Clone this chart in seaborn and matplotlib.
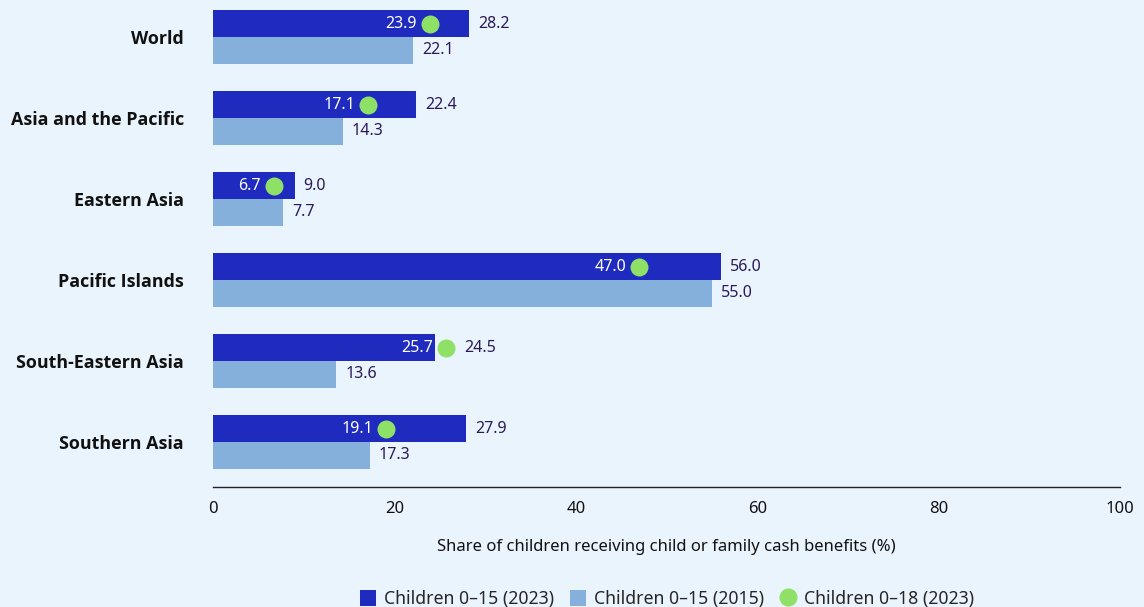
import pandas as pd
import seaborn as sns
import matplotlib.pyplot as plt
from matplotlib.patches import Patch
from matplotlib.lines import Line2D

regions = ['World', 'Asia and the Pacific', 'Eastern Asia', 'Pacific Islands',
           'South-Eastern Asia', 'Southern Asia']
children_0_15_2023 = [28.2, 22.4, 9.0, 56.0, 24.5, 27.9]
children_0_15_2015 = [22.1, 14.3, 7.7, 55.0, 13.6, 17.3]
children_0_18_2023 = [23.9, 17.1, 6.7, 47.0, 25.7, 19.1]
series_names = ['Children 0–15 (2023)', 'Children 0–15 (2015)', 'Children 0–18 (2023)']

bg = '#eaf4fd'
dark_blue = '#1f2bbf'
light_blue = '#85b0dc'
green = '#8ee067'
label_col = '#2b1a5a'

sns.set_theme(style='white')
plt.rcParams['font.family'] = ['Noto Sans', 'DejaVu Sans']

df = pd.DataFrame({
    'region': regions * 2,
    'value': children_0_15_2023 + children_0_15_2015,
    'series': [series_names[0]] * len(regions) + [series_names[1]] * len(regions),
})

fig = plt.figure(figsize=(11.44, 6.07), dpi=100, facecolor=bg)
ax = fig.add_axes([0.1862, 0.1977, 0.7928, 0.8015])
ax.set_facecolor(bg)

sns.barplot(data=df, x='value', y='region', hue='series', orient='h',
            palette=[dark_blue, light_blue], width=0.66, saturation=1,
            linewidth=0, legend=False, ax=ax)

dark_bars, light_bars = ax.containers[0], ax.containers[1]

# pixels -> data units for offsets
px = 100 / 907.0

for bar, v, g in zip(dark_bars, children_0_15_2023, children_0_18_2023):
    yc = bar.get_y() + bar.get_height() / 2
    ax.scatter([g], [yc], s=168, color=green, zorder=4, linewidths=0)
    ax.text(g - 13 * px, yc, f'{g:.1f}', ha='right', va='center',
            color='white', fontsize=11.5, zorder=5)
    end = max(v, g + 9 * px)
    ax.text(end + 9 * px, yc, f'{v:.1f}', ha='left', va='center',
            color=label_col, fontsize=11.5)

for bar, v in zip(light_bars, children_0_15_2015):
    yc = bar.get_y() + bar.get_height() / 2
    ax.text(v + 9 * px, yc, f'{v:.1f}', ha='left', va='center',
            color=label_col, fontsize=11.5)

ax.set_xlim(0, 100)
ax.set_ylim(5.555, -0.45)
ax.set_xticks([0, 20, 40, 60, 80, 100])
ax.set_yticks(range(len(regions)), regions, fontweight='bold', fontsize=12.9,
              color='#111111', family=['Open Sans', 'DejaVu Sans'])
ax.tick_params(axis='x', length=0, pad=10, labelsize=12, labelcolor='#111111')
ax.tick_params(axis='y', length=0, pad=21)
for lbl in ax.get_yticklabels():
    lbl.set_y(lbl.get_position()[1])
ax.set_ylabel('')
ax.set_xlabel('Share of children receiving child or family cash benefits (%)',
              fontsize=12, labelpad=16, color='#111111')

for s in ['top', 'right', 'left']:
    ax.spines[s].set_visible(False)
ax.spines['bottom'].set_color('#222222')
ax.spines['bottom'].set_linewidth(1)

handles = [
    Patch(facecolor=dark_blue, edgecolor='none'),
    Patch(facecolor=light_blue, edgecolor='none'),
    Line2D([], [], marker='o', linestyle='none', markersize=13,
           markerfacecolor=green, markeredgecolor='none'),
]
fig.legend(handles, series_names, loc='lower center', bbox_to_anchor=(0.583, -0.028),
           ncol=3, frameon=False, fontsize=12.7, handlelength=0.9, handleheight=1.05,
           handletextpad=0.45, columnspacing=0.9)

fig.savefig('out.png', dpi=100, facecolor=bg)
